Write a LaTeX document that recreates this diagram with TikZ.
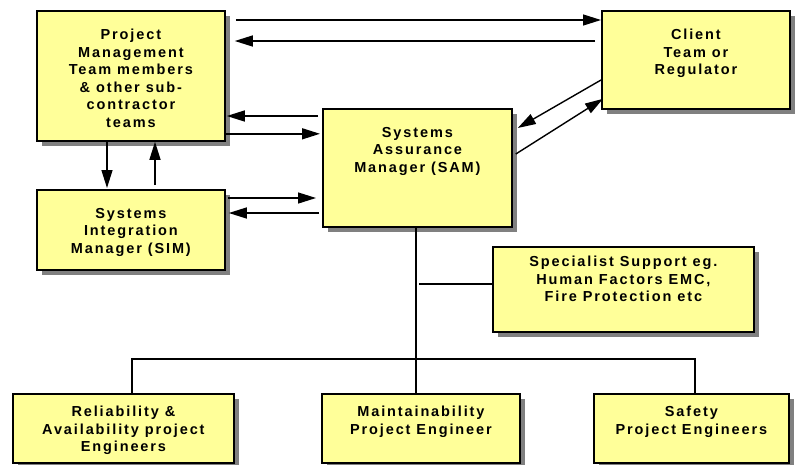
\documentclass[tikz,border=0pt]{standalone}
\usepackage{fontspec}
\setmainfont{Liberation Sans}[LetterSpace=13]
\usetikzlibrary{arrows.meta,shadows,calc}
\definecolor{boxfill}{HTML}{FFFF99}
\definecolor{shade}{HTML}{808080}
\begin{document}
\begin{tikzpicture}[x=1pt,y=-1pt,
  box/.style={draw=black, line width=1.8pt, fill=boxfill,
    drop shadow={shadow xshift=5pt, shadow yshift=-5pt, fill=shade, opacity=1},
    anchor=north west, inner sep=0pt},
  txt/.style={anchor=north, align=center, inner sep=0pt,
    font=\bfseries\fontsize{14.5}{17.5}\selectfont},
  arr/.style={line width=1.4pt, -{Triangle[length=18pt,width=11pt]}},
  ln/.style={line width=1.4pt}]
\useasboundingbox (0,0) rectangle (799,464);

% boxes
\node[box, minimum width=188pt, minimum height=130pt] (pm) at (36,10) {};
\node[box, minimum width=188pt, minimum height=98pt] (cl) at (601,10) {};
\node[box, minimum width=189pt, minimum height=118pt] (sam) at (322,108) {};
\node[box, minimum width=188pt, minimum height=80pt] (sim) at (36,189) {};
\node[box, minimum width=261pt, minimum height=85pt] (sp) at (492,246) {};
\node[box, minimum width=221pt, minimum height=69pt] (rel) at (12,393) {};
\node[box, minimum width=198pt, minimum height=69pt] (mt) at (321,393) {};
\node[box, minimum width=195pt, minimum height=69pt] (sf) at (593,393) {};

% texts
\node[txt] (pmt) at ($(pm.north)+(0,19)$) {Project\\Management\\Team members\\\& other sub-\\contractor\\teams};
\node[txt] (clt) at ($(cl.north)+(0,19)$) {Client\\Team or\\Regulator};
\node[txt] (samt) at ($(sam.north)+(0,19)$) {Systems\\Assurance\\Manager (SAM)};
\node[txt] (simt) at ($(sim.north)+(0,19)$) {Systems\\Integration\\Manager (SIM)};
\node[txt] (spt) at ($(sp.north)+(0,10)$) {Specialist Support eg.\\Human Factors EMC,\\Fire Protection etc};
\node[txt] (relt) at ($(rel.north)+(0,13)$) {Reliability \&\\Availability project\\Engineers};
\node[txt] (mtt) at ($(mt.north)+(0,13)$) {Maintainability\\Project Engineer};
\node[txt] (sft) at ($(sf.north)+(0,13)$) {Safety\\Project Engineers};

% connectors
\draw[arr] ($(pm.north east)+(10,10)$) coordinate (c1) -- (c1 -| cl.west);
\draw[arr] ($(cl.north west)+(-6,31)$) coordinate (c2) -- ($(c2 -| pm.east)+(9,0)$);
\draw[arr] ($(sam.north west)+(-4,8)$) coordinate (c3) -- ($(c3 -| pm.east)+(1,0)$);
\draw[arr] ($(pm.south east)+(-2,-8)$) coordinate (c4) -- ($(c4 -| sam.west)+(-2,0)$);
\draw[arr] ($(pm.south west)+(71,0)$) coordinate (c5) -- ($(c5 |- sim.north)+(0,-1)$);
\draw[arr] ($(sim.north west)+(119,-4)$) coordinate (c6) -- (c6 |- pm.south);
\draw[arr] ($(sim.north east)+(2,9)$) coordinate (c7) -- ($(c7 -| sam.west)+(-6,0)$);
\draw[arr] ($(sam.west |- sim.north)+(-3,24)$) coordinate (c8) -- ($(c8 -| sim.east)+(3,0)$);
\draw[arr] ($(cl.north west)+(0,70)$) -- ($(sam.north east)+(5,20)$);
\draw[arr] ($(sam.north east)+(3,46)$) -- ($(cl.south west)+(2,-11)$);
\draw[ln] ($(sam.south west)+(94,0)$) coordinate (c11) -- (c11 |- mt.north);
\draw[ln] ($(sp.north west)+(0,38)$) coordinate (c12) -- ($(c12 -| c11)+(3,0)$);
\draw[ln] ($(rel.north west)+(120,0)$) |- ($(sf.north west)+(102,-34)$) -- ($(sf.north west)+(102,0)$);
\end{tikzpicture}
\end{document}
